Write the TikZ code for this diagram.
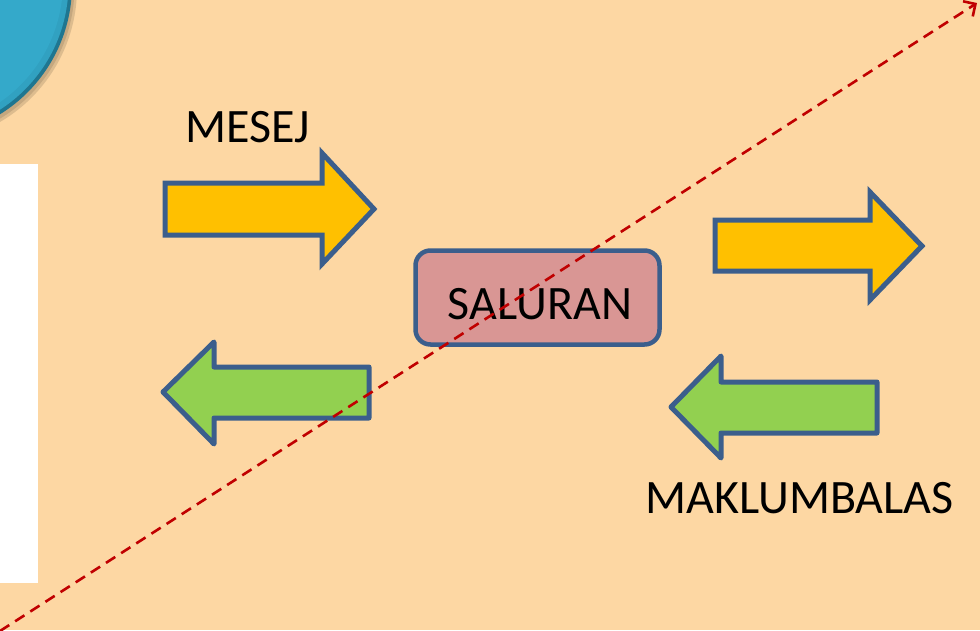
\documentclass[tikz,border=0pt]{standalone}
\usepackage{fontspec}
\setmainfont{Carlito}
\usetikzlibrary{arrows.meta}
\definecolor{bgc}{HTML}{FDD7A3}
\definecolor{yel}{HTML}{FFC000}
\definecolor{grn}{HTML}{92D050}
\definecolor{edge}{HTML}{3B5E8C}
\definecolor{pinkc}{HTML}{D99694}
\definecolor{bluec}{HTML}{34A9CA}
\definecolor{bluedk}{HTML}{1F7690}
\definecolor{redc}{HTML}{C00000}
\tikzset{
  yarrow/.style={fill=yel, draw=edge, line width=5pt, miter limit=10},
  garrow/.style={fill=grn, draw=edge, line width=5pt, line join=round},
  lbl/.style={font=\fontsize{48}{56}\selectfont, inner sep=0pt, anchor=base, text=black},
  chan/.style={fill=pinkc, draw=edge, line width=4.5pt, rounded corners=15pt,
    minimum width=244pt, minimum height=94pt, inner sep=0pt},
  diag/.style={draw=redc, line width=2.6pt, dash pattern=on 11pt off 7pt,
    -{Straight Barb[length=9pt,width=18pt,line width=2.6pt]}}
}
\begin{document}
\begin{tikzpicture}[x=1pt,y=-1pt]
\useasboundingbox (0,0) rectangle (980,630);
\fill[bgc] (0,0) rectangle (980,630);
% blue circle with soft shadow
\fill[black!50!bgc, opacity=0.25] (-78,-12) circle (155);
\fill[black!50!bgc, opacity=0.25] (-79,-13) circle (153.5);
\fill[bluedk] (-80,-15) circle (152);
\fill[bluec!85!bluedk] (-81,-16) circle (149.5);
\fill[bluec] (-83,-18) circle (146);
% white panel
\fill[white] (0,164) rectangle (38,583);
% arrows
\draw[yarrow] (165,183) -- (322,183) -- (322,153) -- (374,209) -- (322,264) -- (322,235) -- (165,235) -- cycle;
\draw[yarrow] (715,220) -- (870,220) -- (870,192) -- (922,246) -- (870,300) -- (870,271) -- (715,271) -- cycle;
\draw[garrow] (369,367) -- (214,367) -- (214,342) -- (163,392) -- (214,444) -- (214,418) -- (369,418) -- cycle;
\draw[garrow] (877,382) -- (721,382) -- (721,356) -- (671,407) -- (721,458) -- (721,433) -- (877,433) -- cycle;
% channel box
\node[chan] (saluran) at (537.5,297.5) {};
\node[lbl] (saluranlbl) at (540,319) {SALURAN};
\node[lbl] (mesej) at (247.5,142) {MESEJ};
\node[lbl] (maklum) at (799.5,513) {MAKLUMBALAS};
% dashed diagonal
\coordinate (dstart) at (0,631);
\coordinate (dend) at (977,3);
\draw[diag] (dstart) -- (dend);
\end{tikzpicture}
\end{document}
